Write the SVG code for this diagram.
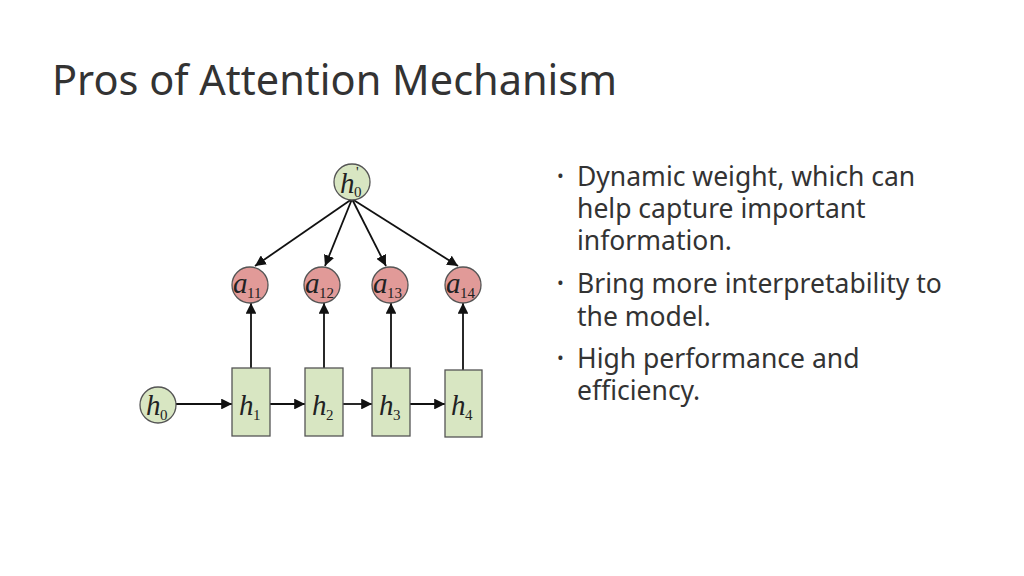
<svg xmlns="http://www.w3.org/2000/svg" width="1024" height="576" viewBox="0 0 1024 576">
<style>
.g{fill:#d8e6c2;stroke:#555;stroke-width:1.3}
.r{fill:#e19a98;stroke:#555;stroke-width:1.3}
.m{font-family:"Liberation Serif",serif;font-style:italic;font-size:29px;fill:#222}
.s{font-family:"Liberation Serif",serif;font-size:15px;fill:#222}
.c line{stroke:#111;stroke-width:1.8;marker-end:url(#a)}
.t{font-family:"Noto Sans","Liberation Sans",sans-serif;font-size:26.5px;fill:#333}
.b{font-size:18px}
</style>
<defs><marker id="a" viewBox="0 0 10 10" refX="10" refY="5" markerWidth="6" markerHeight="6" orient="auto"><path d="M0,0L10,5L0,10z" fill="#111"/></marker></defs>
<rect width="1024" height="576" fill="#fff"/>
<text x="52" y="95" font-family="'Noto Sans','Liberation Sans',sans-serif" font-size="41" textLength="565" lengthAdjust="spacingAndGlyphs" fill="#333">Pros of Attention Mechanism</text>
<g class="c">
<line x1="352" y1="199" x2="255" y2="266"/>
<line x1="352" y1="199" x2="325" y2="266"/>
<line x1="352" y1="199" x2="386" y2="266"/>
<line x1="352" y1="199" x2="458" y2="266"/>
<line x1="251" y1="368" x2="251" y2="303"/>
<line x1="324" y1="368" x2="324" y2="303"/>
<line x1="391" y1="368" x2="391" y2="303"/>
<line x1="463" y1="370" x2="463" y2="303"/>
<line x1="176" y1="404" x2="232" y2="404"/>
<line x1="270" y1="404" x2="305" y2="404"/>
<line x1="343" y1="404" x2="372" y2="404"/>
<line x1="410" y1="404" x2="445" y2="404"/>
</g>
<g id="h0p"><circle class="g" cx="352" cy="182" r="18"/><text class="m" x="340" y="193">h</text><text class="s" x="354" y="197">0</text><text class="s" x="356" y="177">'</text></g>
<g id="a11"><circle class="r" cx="250" cy="285" r="18"/><text class="m" x="233" y="293">a</text><text class="s" x="247" y="298">11</text></g>
<g id="a12"><circle class="r" cx="322" cy="285" r="18"/><text class="m" x="305" y="293">a</text><text class="s" x="319" y="298">12</text></g>
<g id="a13"><circle class="r" cx="390" cy="285" r="18"/><text class="m" x="373" y="293">a</text><text class="s" x="387" y="298">13</text></g>
<g id="a14"><circle class="r" cx="463" cy="285" r="18"/><text class="m" x="446" y="293">a</text><text class="s" x="460" y="298">14</text></g>
<g id="h0"><circle class="g" cx="158" cy="405" r="18"/><text class="m" x="146" y="415">h</text><text class="s" x="160" y="420">0</text></g>
<g id="h1"><rect class="g" x="232" y="368" width="38" height="68"/><text class="m" x="239" y="415">h</text><text class="s" x="253" y="420">1</text></g>
<g id="h2"><rect class="g" x="305" y="368" width="38" height="68"/><text class="m" x="312" y="415">h</text><text class="s" x="326" y="420">2</text></g>
<g id="h3"><rect class="g" x="372" y="368" width="38" height="68"/><text class="m" x="379" y="415">h</text><text class="s" x="393" y="420">3</text></g>
<g id="h4"><rect class="g" x="445" y="370" width="37" height="67"/><text class="m" x="451" y="415">h</text><text class="s" x="465" y="420">4</text></g>
<g id="bullets" class="t">
<text class="b" x="557" y="182">•</text><text x="577" y="186">Dynamic weight, which can</text>
<text x="577" y="218">help capture important</text>
<text x="577" y="250">information.</text>
<text class="b" x="557" y="289">•</text><text x="577" y="293">Bring more interpretability to</text>
<text x="577" y="326">the model.</text>
<text class="b" x="557" y="364">•</text><text x="577" y="368">High performance and</text>
<text x="577" y="400">efficiency.</text>
</g>
</svg>
